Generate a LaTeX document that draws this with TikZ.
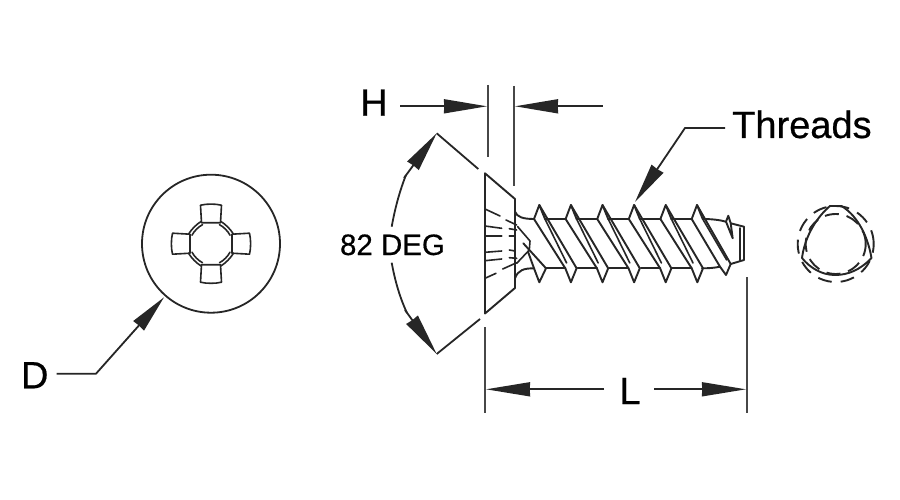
\documentclass[tikz,border=0pt]{standalone}
\usepackage{fontspec}
\setmainfont{Liberation Sans}
\newfontfamily\labelfont[RawFeature={embolden=0.5}]{Liberation Sans}
\usetikzlibrary{arrows.meta}
\definecolor{ink}{HTML}{262626}
\tikzset{
  part/.style={draw=ink,line width=1.9pt,line join=round,line cap=round},
  thin part/.style={draw=ink,line width=1.6pt,line join=round,line cap=round},
  extline/.style={draw=ink!85,line width=2.3pt},
  leader/.style={draw=ink,line width=1.8pt},
  headed/.style={leader,-{Stealth[length=#1pt,width=14pt,inset=0.3pt]}},
  big/.style={inner sep=0pt,font=\labelfont\fontsize{38}{40}\selectfont,text=black,anchor=base},
  mid/.style={inner sep=0pt,font=\labelfont\fontsize{29.5}{32}\selectfont,text=black,anchor=base}
}
\begin{document}
\begin{tikzpicture}[x=1pt,y=-1pt]
\path[use as bounding box,fill=white] (0,0) rectangle (900,500);

% ---------- head view
\node[circle,draw=ink,line width=1.8pt,minimum size=138pt,inner sep=0pt] (disc) at (211,243.7) {};
\foreach \a in {0,90,180,270}{
\begin{scope}[shift={(211,243.7)},rotate=\a]
  \draw[thin part] (-10.5,-38.5) .. controls (-4,-40) and (4,-40) .. (10.5,-38.5)
        -- (9.5,-21) -- (-9.5,-21) -- cycle;
  \draw[thin part] (9.5,-22.5) .. controls (14.5,-19.5) and (19.5,-14.5) .. (22.5,-9.5);
  \draw[thin part] (8.5,-19) .. controls (12.5,-17) and (17,-12.5) .. (19,-8.5);
\end{scope}}

% ---------- screw head
\draw[part] (515,199) -- (485,173.3) -- (485,313.5) -- (515,288) -- cycle;
\draw[part] (515,211.7) .. controls (517,217) and (523,219) .. (534,219);
\draw[part] (515,278.3) .. controls (518,270) and (524,268.3) .. (534,268.3);
\draw[thin part] (517.7,226.7) -- (530,241) -- (529.3,250) -- (516.7,263.3);
\foreach \p/\q in {
  {485,209}/{500,216},{506,220}/{516.7,225},
  {485,226}/{501.7,228.3},{509.3,228.7}/{516.7,230},
  {485,235.7}/{501.7,235.7},{509.3,236}/{515,236},
  {485,252.3}/{501.7,251},{509.3,250}/{515,251},
  {485,260.7}/{501.7,259},{509.3,257.7}/{516.7,258.3},
  {485,278.3}/{496,273.3},{502.7,269}/{516.7,262.7}}
  \draw[thin part] (\p) -- (\q);

% ---------- threads
\draw[part] (523.3,243.3) -- (546,268.3);
\draw[part] (528,251.7) -- (534,268.3) -- (539.3,282.3) -- (546,268.3);
\foreach \i in {0,...,4}{
  \pgfmathsetmacro{\xc}{539.3+31.6*\i}
  \draw[part] (\xc-5.3,219) -- (\xc,205) -- (\xc+5.7,219);
  \draw[part] (\xc-5.3,219) -- (\xc+26,268.3) -- (\xc+31.6,282.3) -- (\xc+37.3,268.3) -- (\xc,205);
  \draw[thin part] (\xc+5.7,219) -- (\xc+27.3,263);
  \draw[part] (\xc+5.7,219) -- (\xc+26.3,219);
  \draw[part] (\xc+6.7,268.3) -- (\xc+26,268.3);
}
% last turn and point
\draw[part] (691.7,219) -- (697,205) -- (702.7,219);
\draw[part] (691.7,219) -- (720,266.7) -- (726,275) -- (730.7,264) -- (697,205);
\draw[thin part] (702.7,219) -- (726.7,260);
\draw[part] (702.7,219) .. controls (712,219) and (720,220) .. (726,221.7);
\draw[part] (702,268.3) .. controls (708,268.3) and (714,268) .. (720,266.7);
\draw[part] (728.3,215.7) -- (726,221.7) -- (732.7,238.3) -- (730.7,223.3) -- cycle;
\draw[part] (730.7,223.3) -- (744,226.7) -- (744,260) -- (730.7,264);
\draw[thin part] (740,228) -- (740,260.5);

% ---------- point view
\draw[part] (830,206) -- (841.4,206)
  .. controls (855,214) and (867,232) .. (871.5,258)
  .. controls (860,270) and (848,275) .. (835,275)
  .. controls (822,275) and (810,268) .. (802,258)
  .. controls (805,235) and (818,216) .. (830,206) -- cycle;
\node[circle,draw=ink,line width=1.9pt,dash pattern=on 14pt off 9pt,minimum size=76pt,inner sep=0pt] (outer) at (835.7,244) {};
\node[circle,draw=ink,line width=1.9pt,dash pattern=on 14pt off 8pt,minimum size=60pt,inner sep=0pt] (inner) at (835.7,244) {};

% ---------- labels
\node[big] (H) at (374,115.7) {H};
\node[big] (D) at (34.7,388.3) {D};
\node[big] (L) at (630,404) {L};
\node[big,anchor=base west] (threads) at (732,138) {Threads};
\node[mid] (deg) at (392.5,255) {82 DEG};

% ---------- extension lines
\coordinate (hAt) at (487.7,85);  \coordinate (hAb) at (487.7,157);
\coordinate (hBt) at (514,86);    \coordinate (hBb) at (514,186);
\coordinate (lAt) at (485,327);   \coordinate (lAb) at (485,413);
\coordinate (lBt) at (746.7,277); \coordinate (lBb) at (746.7,413);
\draw[extline] (hAt) -- (hAb);
\draw[extline] (hBt) -- (hBb);
\draw[extline] (lAt) -- (lAb);
\draw[extline] (lBt) -- (lBb);

% ---------- H
\coordinate (h1) at (400,106.3);  \coordinate (h1t) at (487,106.3);
\coordinate (h2) at (602.7,106.3);\coordinate (h2t) at (515,106.3);
\draw[headed=43] (h1) -- (h1t);
\draw[headed=43] (h2) -- (h2t);

% ---------- L
\coordinate (l1) at (604,389.3);  \coordinate (l1t) at (486,389.3);
\coordinate (l2) at (654,389.3);  \coordinate (l2t) at (746,389.3);
\draw[headed=44] (l1) -- (l1t);
\draw[headed=44] (l2) -- (l2t);

% ---------- Threads
\coordinate (t1) at (725,128); \coordinate (t2) at (685,128); \coordinate (t3) at (635,202);
\draw[headed=40,line join=miter] (t1) -- (t2) -- (t3);

% ---------- D
\coordinate (d1) at (56.7,373.7); \coordinate (d2) at (96,373.7); \coordinate (d3) at (164,297.3);
\draw[headed=38,line join=miter] (d1) -- (d2) -- (d3);

% ---------- angle
\coordinate (vt) at (436.7,133.3); \coordinate (vb) at (436.7,354);
\coordinate (et) at (478.3,169);   \coordinate (eb) at (480,319);
\coordinate (at) at (391.7,226.7); \coordinate (ab) at (391.7,262.7);
\coordinate (bt) at (406,175);     \coordinate (bb) at (407,313);
\draw[leader] (vt) -- (et);
\draw[leader] (vb) -- (eb);
\draw[leader] (at) .. controls (395,208) and (400,190) .. (bt);
\draw[leader] (ab) .. controls (395,281) and (400,298) .. (bb);
\draw[headed=40] (bt) ++(-2,3) -- (vt);
\draw[headed=42] (bb) ++(-2,-3) -- (vb);
\end{tikzpicture}
\end{document}
